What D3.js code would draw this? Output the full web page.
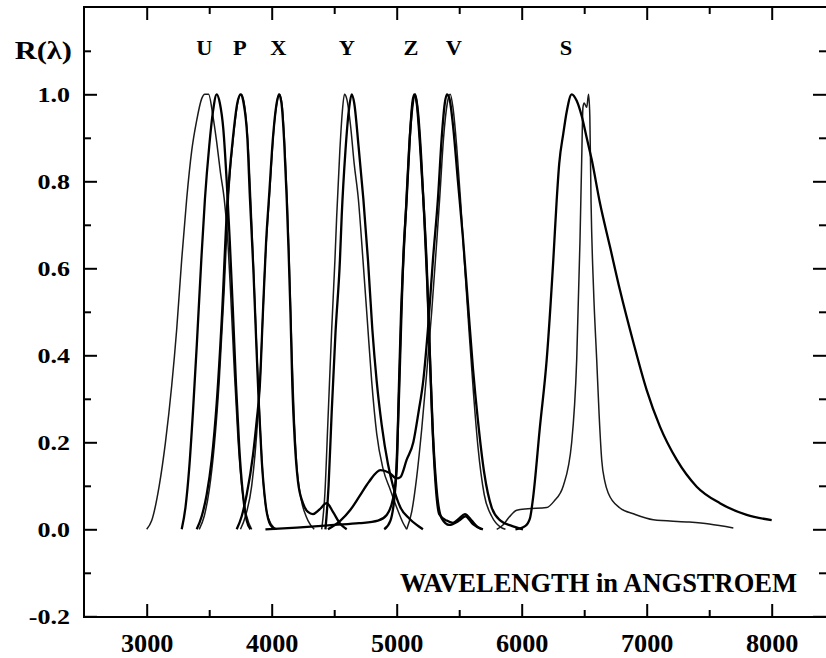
<!DOCTYPE html>
<html>
<head>
<meta charset="utf-8">
<script src="https://cdn.jsdelivr.net/npm/d3@7"></script>
<style>
    body { margin: 0; background: #fff; }
    svg text { font-family: "Liberation Serif", "Times New Roman", serif; font-weight: bold; fill: #000; }
</style>
</head>
<body>
<div id="main"></div>
<script>
var ctx = {
    w: 826,
    h: 658,
    left: 84,
    top: 7,
    right: 826,
    bottom: 617,
};

// filter letters and the wavelength they sit over
var filterNames = ["U", "P", "X", "Y", "Z", "V", "S"];
var labelWaves = [3462, 3746, 4054, 4602, 5114, 5458, 6354];

var xMajor = [3000, 4000, 5000, 6000, 7000, 8000];
var xMinor = [3500, 4500, 5500, 6500, 7500];
var yMajor = [-0.2, 0.0, 0.2, 0.4, 0.6, 0.8, 1.0];
var yMinor = [-0.1, 0.1, 0.3, 0.5, 0.7, 0.9, 1.1];

// response curves, [wavelength, R]
var u1 = [[3000,0],[3040,0.02],[3100,0.1],[3150,0.2],[3200,0.33],[3240,0.46],[3280,0.62],[3320,0.76],[3360,0.87],[3400,0.94],[3440,0.99],[3465,1.0],[3495,1.0],[3530,0.95],[3560,0.89],[3590,0.82],[3620,0.76],[3645,0.68],[3670,0.55],[3700,0.37],[3730,0.21],[3760,0.1],[3800,0.03],[3840,0]];
var u2 = [[3280,0],[3310,0.05],[3340,0.14],[3370,0.27],[3400,0.42],[3437,0.62],[3466,0.76],[3500,0.88],[3530,0.96],[3560,1.0],[3585,0.98],[3613,0.92],[3640,0.8],[3665,0.66],[3690,0.5],[3715,0.33],[3740,0.19],[3770,0.08],[3800,0.02],[3830,0]];
var p1 = [[3400,0],[3440,0.03],[3480,0.08],[3520,0.16],[3560,0.29],[3600,0.48],[3645,0.75],[3690,0.9],[3725,0.98],[3750,1.0],[3775,0.98],[3805,0.9],[3826,0.76],[3853,0.6],[3875,0.44],[3895,0.3],[3920,0.16],[3950,0.06],[3990,0.01],[4030,0]];
var p2 = [[3420,0],[3460,0.03],[3500,0.09],[3540,0.19],[3580,0.34],[3620,0.55],[3655,0.77],[3700,0.92],[3735,0.99],[3758,1.0],[3785,0.97],[3812,0.88],[3835,0.74],[3860,0.56],[3882,0.4],[3905,0.25],[3930,0.12],[3960,0.04],[4000,0.01],[4040,0]];
var x1 = [[3720,0],[3760,0.03],[3800,0.08],[3850,0.17],[3880,0.25],[3905,0.33],[3930,0.5],[3955,0.66],[3980,0.77],[4010,0.9],[4040,0.98],[4058,1.0],[4078,0.98],[4100,0.89],[4120,0.76],[4135,0.64],[4150,0.5],[4165,0.33],[4185,0.2],[4210,0.11],[4250,0.06],[4290,0.04],[4330,0.035],[4380,0.045],[4440,0.06],[4490,0.04],[4550,0.012],[4600,0]];
var x2 = [[3750,0],[3790,0.03],[3840,0.1],[3880,0.22],[3910,0.36],[3945,0.6],[3985,0.78],[4020,0.93],[4048,0.99],[4064,1.0],[4085,0.97],[4108,0.86],[4125,0.75],[4142,0.6],[4160,0.42],[4178,0.27],[4200,0.15],[4235,0.07],[4275,0.03],[4310,0.01],[4340,0]];
var y1 = [[4400,0],[4425,0.08],[4450,0.25],[4480,0.46],[4506,0.62],[4520,0.72],[4545,0.87],[4565,0.96],[4582,1.0],[4600,0.99],[4630,0.93],[4660,0.84],[4693,0.76],[4730,0.62],[4765,0.48],[4800,0.34],[4840,0.22],[4890,0.14],[4950,0.09],[5000,0.05],[5050,0.015],[5080,0]];
var y2 = [[4430,0],[4455,0.1],[4480,0.27],[4510,0.45],[4546,0.62],[4560,0.72],[4590,0.87],[4620,0.97],[4640,1.0],[4660,0.98],[4695,0.88],[4733,0.76],[4770,0.62],[4805,0.46],[4840,0.34],[4880,0.24],[4930,0.15],[4970,0.1],[5030,0.05],[5100,0.025],[5160,0.01],[5210,0]];
var z1 = [[3950,0],[4200,0.004],[4500,0.01],[4700,0.014],[4850,0.02],[4920,0.033],[4970,0.07],[5000,0.14],[5015,0.3],[5035,0.5],[5055,0.64],[5080,0.76],[5105,0.9],[5125,0.98],[5141,1.0],[5160,0.98],[5185,0.89],[5213,0.76],[5240,0.61],[5260,0.45],[5280,0.28],[5305,0.13],[5340,0.035],[5400,0.02],[5450,0.015],[5500,0.025],[5546,0.035],[5600,0.02],[5650,0.005],[5690,0]];
var z2 = [[4900,0],[4950,0.02],[4990,0.1],[5020,0.32],[5045,0.56],[5075,0.74],[5100,0.88],[5125,0.97],[5148,1.0],[5170,0.96],[5195,0.86],[5220,0.72],[5245,0.56],[5265,0.4],[5290,0.22],[5320,0.09],[5360,0.025],[5420,0.01],[5500,0.02],[5550,0.03],[5610,0.012],[5680,0]];
var v1 = [[5080,0],[5120,0.04],[5160,0.12],[5200,0.23],[5240,0.36],[5280,0.5],[5320,0.66],[5346,0.77],[5375,0.9],[5405,0.98],[5428,1.0],[5450,0.97],[5480,0.88],[5510,0.76],[5545,0.6],[5580,0.45],[5615,0.31],[5650,0.19],[5700,0.08],[5760,0.03],[5830,0.005],[5870,0]];
var v2 = [[4450,0],[4550,0.02],[4630,0.045],[4700,0.075],[4780,0.11],[4870,0.136],[4940,0.13],[5000,0.117],[5030,0.12],[5080,0.16],[5133,0.2],[5175,0.27],[5213,0.343],[5250,0.46],[5290,0.62],[5330,0.76],[5360,0.9],[5385,0.98],[5402,1.0],[5422,0.99],[5450,0.93],[5490,0.8],[5530,0.67],[5570,0.52],[5610,0.37],[5650,0.25],[5700,0.13],[5760,0.05],[5830,0.02],[5920,0.008],[6010,0]];
var s1 = [[5950,0],[6030,0.008],[6066,0.025],[6090,0.07],[6146,0.236],[6200,0.39],[6253,0.62],[6280,0.757],[6300,0.84],[6333,0.91],[6360,0.96],[6400,1.0],[6440,0.985],[6480,0.95],[6520,0.9],[6560,0.85],[6626,0.75],[6706,0.65],[6786,0.55],[6893,0.43],[7000,0.32],[7106,0.236],[7240,0.16],[7400,0.098],[7586,0.06],[7800,0.033],[8000,0.021]];
var s2 = [[5800,0],[5850,0.01],[5900,0.028],[5960,0.044],[6050,0.047],[6200,0.05],[6260,0.065],[6333,0.1],[6400,0.2],[6440,0.39],[6466,0.66],[6480,0.85],[6490,0.97],[6500,0.98],[6520,0.97],[6535,1.0],[6545,0.95],[6555,0.75],[6575,0.55],[6600,0.39],[6620,0.26],[6640,0.16],[6665,0.11],[6693,0.083],[6786,0.049],[6900,0.035],[7053,0.022],[7320,0.017],[7500,0.012],[7693,0.003]];

var thinCurves = [u1, p2, x2, y1, v1, s2];
var boldCurves = [u2, p1, x1, y2, z1, z2, v2, s1];

// bold serif text, stretched a little sideways like the scanned figure
var stretchText = function (sel, px, sx) {
    sel.style("font-size", px + "px")
        .style("font-family", "Liberation Serif")
        .style("font-weight", "bold");
    return sel;
};

var createViz = function () {
    var svg = d3.select("#main").append("svg")
        .attr("width", ctx.w)
        .attr("height", ctx.h);
    svg.append("rect").attr("width", ctx.w).attr("height", ctx.h).attr("fill", "#fff");

    var x = d3.scaleLinear().domain([2500, 8500]).range([84.2, 834.2]);
    var y = d3.scaleLinear().domain([-0.2, 1.2]).range([616.3, 7.3]);

    svg.append("clipPath").attr("id", "plotclip")
        .append("rect")
        .attr("x", ctx.left).attr("y", ctx.top)
        .attr("width", ctx.right - ctx.left).attr("height", ctx.bottom - ctx.top);

    var line = d3.line()
        .x(function (d) { return x(d[0]); })
        .y(function (d) { return y(d[1]); })
        .curve(d3.curveMonotoneX);

    var plot = svg.append("g").attr("clip-path", "url(#plotclip)");
    plot.selectAll("path.thin")
        .data(thinCurves)
        .enter()
        .append("path")
        .attr("class", "thin")
        .attr("d", line)
        .attr("fill", "none")
        .attr("stroke", "#1a1a1a")
        .attr("stroke-width", 1.5);
    plot.selectAll("path.bold")
        .data(boldCurves)
        .enter()
        .append("path")
        .attr("class", "bold")
        .attr("d", line)
        .attr("fill", "none")
        .attr("stroke", "#000")
        .attr("stroke-width", 2.3);

    // ticks, all pointing inward
    var addAxis = function (axis, tx, ty, keepText) {
        var g = svg.append("g").attr("transform", "translate(" + tx + "," + ty + ")").call(axis);
        g.select(".domain").remove();
        g.selectAll(".tick line").attr("stroke", "#000").attr("stroke-width", 2);
        if (!keepText) g.selectAll(".tick text").remove();
        return g;
    };

    var xb = addAxis(d3.axisBottom(x).tickValues(xMajor).tickSize(-13).tickFormat(d3.format("d")), 0, ctx.bottom, true);
    stretchText(xb.selectAll(".tick text"), 25)
        .attr("x", 0).attr("y", 35).attr("dy", 0)
        .attr("transform", "scale(1.05,1)");
    addAxis(d3.axisBottom(x).tickValues(xMinor).tickSize(-7).tickFormat(""), 0, ctx.bottom, false);
    addAxis(d3.axisTop(x).tickValues(xMajor).tickSize(-13), 0, ctx.top, false);
    addAxis(d3.axisTop(x).tickValues(xMinor).tickSize(-7), 0, ctx.top, false);

    var yl = addAxis(d3.axisLeft(y).tickValues(yMajor).tickSize(-13)
        .tickFormat(function (d) { return d.toFixed(1); }), ctx.left, 0, true);
    stretchText(yl.selectAll(".tick text"), 20)
        .attr("x", -14 / 1.3).attr("dy", 7)
        .attr("transform", "scale(1.3,1)");
    addAxis(d3.axisLeft(y).tickValues(yMinor).tickSize(-7), ctx.left, 0, false);
    addAxis(d3.axisRight(y).tickValues(yMajor).tickSize(-13), ctx.right, 0, false);
    addAxis(d3.axisRight(y).tickValues(yMinor).tickSize(-7), ctx.right, 0, false);

    // frame
    svg.append("path")
        .attr("d", "M" + ctx.right + "," + ctx.top + "H" + ctx.left + "V" + ctx.bottom + "H" + ctx.right)
        .attr("fill", "none")
        .attr("stroke", "#000")
        .attr("stroke-width", 2);

    stretchText(svg.append("text"), 25)
        .attr("transform", "translate(72,59) scale(1.22,1)")
        .attr("text-anchor", "end")
        .text("R(λ)");

    var letters = svg.append("g")
        .selectAll("text")
        .data(filterNames)
        .enter()
        .append("text")
        .attr("transform", function (d, i) {
            return "translate(" + x(labelWaves[i]) + ",55) scale(1.12,1)";
        })
        .attr("text-anchor", "middle")
        .text(function (d) { return d; });
    stretchText(letters, 20);

    stretchText(svg.append("text"), 26.5)
        .attr("x", 797).attr("y", 592)
        .attr("text-anchor", "end")
        .text("WAVELENGTH in ANGSTROEM");
};

createViz();
</script>
</body>
</html>
